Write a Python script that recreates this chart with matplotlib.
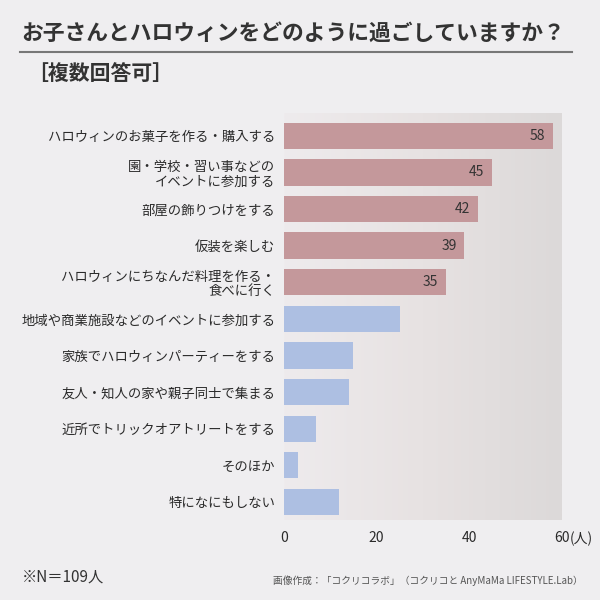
import numpy as np
import matplotlib
matplotlib.use("Agg")
import matplotlib.pyplot as plt
from matplotlib.colors import LinearSegmentedColormap

plt.rcParams['font.family'] = ['Noto Sans CJK JP', 'DejaVu Sans']

labels = [
    "ハロウィンのお菓子を作る・購入する",
    "園・学校・習い事などの\nイベントに参加する",
    "部屋の飾りつけをする",
    "仮装を楽しむ",
    "ハロウィンにちなんだ料理を作る・\n食べに行く",
    "地域や商業施設などのイベントに参加する",
    "家族でハロウィンパーティーをする",
    "友人・知人の家や親子同士で集まる",
    "近所でトリックオアトリートをする",
    "そのほか",
    "特になにもしない",
]
values = [58, 45, 42, 39, 35, 25, 15, 14, 7, 3, 12]
show_value = [True, True, True, True, True, False, False, False, False, False, False]
xticks = [0, 20, 40, 60]
xticklabels = ["0", "20", "40", "60"]
unit = "(人)"

pink = "#c4989b"
blue = "#adbfe2"
bg = "#efeef0"

fig = plt.figure(figsize=(6, 6), dpi=100, facecolor=bg)
ax = fig.add_axes([0.473, 0.133, 0.4633, 0.679])

# soft gradient background of the plot area
grad = np.linspace(0, 1, 256).reshape(1, -1)
cmap = LinearSegmentedColormap.from_list("g", ["#eeebed", "#e7e2e2", "#dcd9d9"])
ax.imshow(grad, extent=[0, 60, 10.5, -0.63], aspect="auto", cmap=cmap, zorder=0)

y = np.arange(len(values))
colors = [pink if s else blue for s in show_value]
ax.barh(y, values, height=0.72, color=colors, zorder=2)

for yi, v, s in zip(y, values, show_value):
    if s:
        ax.text(v - 1.7, yi, str(v), ha="right", va="center", fontsize=10,
                color="#333333", zorder=3)

ax.set_xlim(0, 60)
ax.set_ylim(10.5, -0.63)
ax.set_yticks(y)
ax.set_yticklabels(labels, fontsize=9.6, color="#2a2a2a", linespacing=1.05)
ax.set_xticks(xticks)
ax.set_xticklabels(xticklabels, fontsize=10, color="#2a2a2a")
ax.tick_params(length=0, pad=6)
ax.tick_params(axis="x", pad=8)
for sp in ax.spines.values():
    sp.set_visible(False)

# unit after the last tick label
ax.annotate(unit, xy=(60, 0), xycoords=("data", "axes fraction"),
            xytext=(6, -8), textcoords="offset points", ha="left", va="top",
            fontsize=10, color="#2a2a2a")

fig.text(0.036, 0.945, "お子さんとハロウィンをどのように過ごしていますか？",
         fontsize=15.7, fontweight="bold", color="#333333", va="center")
fig.add_artist(plt.Line2D([0.033, 0.953], [0.913, 0.913], color="#777777", lw=1.5))
fig.text(0.045, 0.877, "［複数回答可］", fontsize=15, fontweight="bold",
         color="#333333", va="center")

fig.text(0.036, 0.038, "※N＝109人", fontsize=11, color="#333333", va="center")
fig.text(0.972, 0.033, "画像作成：「コクリコラボ」（コクリコと AnyMaMa LIFESTYLE.Lab）",
         fontsize=7, color="#555555", ha="right", va="center")

fig.savefig("out.png", dpi=100, facecolor=bg)
